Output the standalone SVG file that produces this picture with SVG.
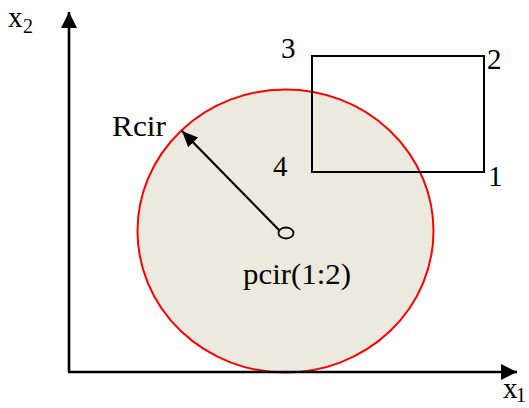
<svg xmlns="http://www.w3.org/2000/svg" width="529" height="408" viewBox="0 0 529 408">
<style>
text{fill:#000;font-family:"Liberation Serif","DejaVu Serif",serif}
.lbl{font-size:29px}
.sub{font-size:20px}
.ax{stroke:#000;stroke-width:2.6;fill:none}
</style>
<defs>
<marker id="ah" markerUnits="userSpaceOnUse" markerWidth="18" markerHeight="16" refX="16" refY="8" orient="auto">
<path d="M0,0 L16,8 L0,16 Z" fill="#000"/>
</marker>
<marker id="ah2" markerUnits="userSpaceOnUse" markerWidth="18" markerHeight="14" refX="16" refY="7" orient="auto">
<path d="M0,0 L16,7 L0,14 Z" fill="#000"/>
</marker>
</defs>
<rect width="529" height="408" fill="#fff"/>
<g id="circle">
<ellipse cx="285.5" cy="231" rx="148" ry="141.5" fill="#ECE9DF" stroke="#f00" stroke-width="2"/>
</g>
<g id="rectangle">
<rect x="312" y="56" width="172" height="116" fill="none" stroke="#000" stroke-width="2"/>
</g>
<g id="center">
<ellipse cx="286" cy="233" rx="7.5" ry="5.5" fill="none" stroke="#000" stroke-width="1.8"/>
</g>
<g id="connectors">
<line class="ax" x1="69" y1="372" x2="69" y2="12" marker-end="url(#ah)"/>
<line class="ax" x1="68" y1="372" x2="517" y2="372" marker-end="url(#ah)"/>
<line x1="279" y1="230" x2="182" y2="131" stroke="#000" stroke-width="2.2" marker-end="url(#ah2)"/>
</g>
<g id="labels">
<text x="8" y="27" class="lbl">x</text><text x="23" y="33" class="sub">2</text>
<text x="503" y="398" class="lbl">x</text><text x="516" y="402" class="sub">1</text>
<text x="112" y="136" class="lbl" textLength="54" lengthAdjust="spacingAndGlyphs">Rcir</text>
<text x="243" y="284" class="lbl" textLength="108" lengthAdjust="spacingAndGlyphs">pcir(1:2)</text>
<text x="281" y="58" class="lbl">3</text>
<text x="487" y="69" class="lbl">2</text>
<text x="488" y="186" class="lbl">1</text>
<text x="273" y="176" class="lbl">4</text>
</g>
</svg>
